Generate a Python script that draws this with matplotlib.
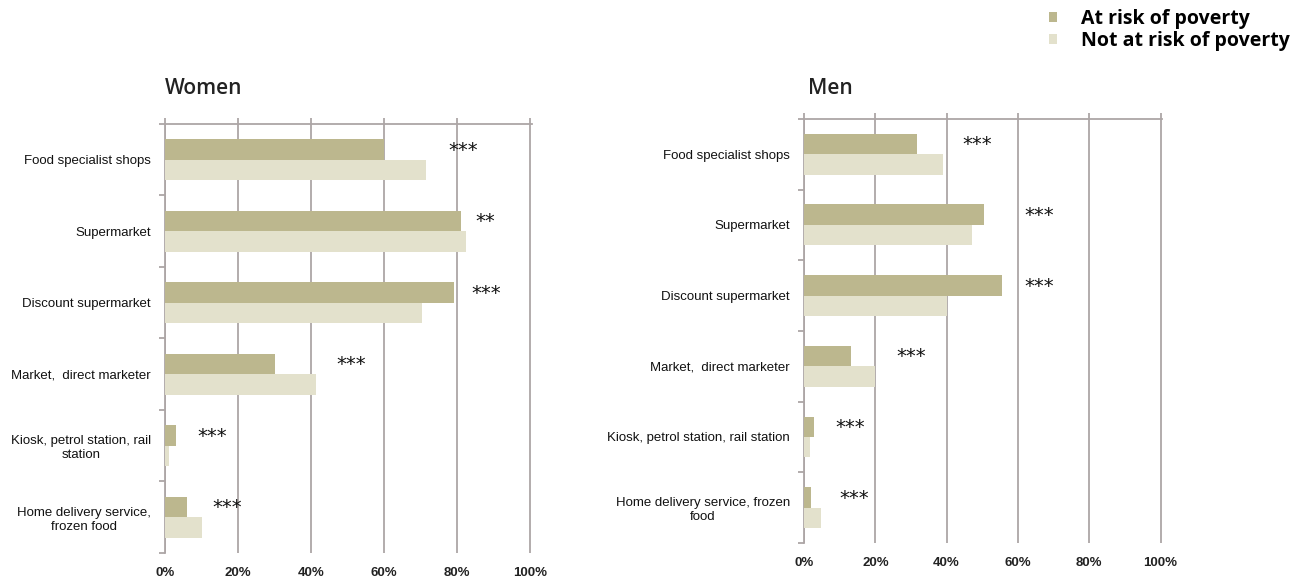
import matplotlib
matplotlib.use("Agg")
import matplotlib.pyplot as plt
from matplotlib import font_manager as fm
import numpy as np

# categories (top to bottom)
cats_women = ["Food specialist shops", "Supermarket", "Discount supermarket",
              "Market,  direct marketer", "Kiosk, petrol station, rail\nstation",
              "Home delivery service,\nfrozen food"]
cats_men = ["Food specialist shops", "Supermarket", "Discount supermarket",
            "Market,  direct marketer", "Kiosk, petrol station, rail station",
            "Home delivery service, frozen\nfood"]

# values in %
women_risk = [60, 81, 79, 30, 3, 6]
women_not = [71.5, 82.3, 70.4, 41.3, 1, 10]
men_risk = [31.6, 50.6, 55.6, 13.2, 2.9, 2]
men_not = [39, 47.2, 40.1, 19.9, 1.8, 4.7]

# significance markers and their x positions (%)
women_sig = ["***", "**", "***", "***", "***", "***"]
women_sig_x = [81.5, 87.5, 88, 51, 13, 17]
men_sig = ["***", "***", "***", "***", "***", "***"]
men_sig_x = [48.7, 66, 66, 30, 13, 14]

ticks = [0, 20, 40, 60, 80, 100]
tick_labels = ["0%", "20%", "40%", "60%", "80%", "100%"]

c_risk = "#bcb78e"
c_not = "#e3e1cc"
c_grid = "#ada6a6"

names = {f.name for f in fm.fontManager.ttflist}
label_font = "Liberation Sans Narrow" if "Liberation Sans Narrow" in names else "Liberation Sans"

fig = plt.figure(figsize=(13.05, 5.81), dpi=100)
ax_w = fig.add_axes([0.1264, 0.0482, 0.2812, 0.7384])
ax_m = fig.add_axes([0.6161, 0.0654, 0.2743, 0.7298])

h = 0.29


def draw_panel(ax, cats, risk, notr, sig, sig_x):
    y = np.arange(len(cats))
    b1 = ax.barh(y - h / 2, risk, height=h, color=c_risk, zorder=3, label="At risk of poverty")
    b2 = ax.barh(y + h / 2, notr, height=h, color=c_not, zorder=3, label="Not at risk of poverty")
    for i in range(len(cats)):
        ax.text(sig_x[i], y[i] - h / 2 + 0.01, sig[i], ha="center", va="center",
                fontsize=14, family="DejaVu Sans", color="#111111", zorder=4)
    ax.set_xlim(0, 100.4)
    ax.set_ylim(len(cats) - 0.5, -0.5)
    ax.set_xticks(ticks)
    ax.set_xticklabels(tick_labels, fontsize=9.5, family=label_font)
    ax.tick_params(axis="x", which="both", top=True, bottom=False, labeltop=False,
                   labelbottom=True, direction="out", length=4, color=c_grid, width=1.3, pad=6)
    for lbl in ax.get_xticklabels():
        lbl.set_fontweight("bold")
        lbl.set_color("#222222")
    ax.set_yticks(y)
    ax.set_yticklabels(cats, fontsize=9.5, family=label_font)
    ax.set_yticks(np.arange(len(cats) + 1) - 0.5, minor=True)
    ax.tick_params(axis="y", which="major", length=0, pad=10, labelcolor="#111111")
    ax.tick_params(axis="y", which="minor", length=4, direction="out", color=c_grid, width=1.3)
    for t in ax.get_yticklabels():
        t.set_multialignment("center")
    ax.grid(axis="x", color=c_grid, linewidth=1.3, zorder=0)
    for s in ["bottom", "right"]:
        ax.spines[s].set_visible(False)
    for s in ["top", "left"]:
        ax.spines[s].set_color(c_grid)
        ax.spines[s].set_linewidth(1.3)
    return b1, b2


handles = draw_panel(ax_w, cats_women, women_risk, women_not, women_sig, women_sig_x)
draw_panel(ax_m, cats_men, men_risk, men_not, men_sig, men_sig_x)

title_kw = dict(ha="left", va="center", fontsize=15, family="Open Sans",
                fontweight="semibold", color="#222222")
fig.text(165 / 1305, 1 - 89 / 581, "Women", **title_kw)
fig.text(808 / 1305, 1 - 89 / 581, "Men", **title_kw)

fig.legend(handles=list(handles), loc="upper left", bbox_to_anchor=(0.804, 0.985),
           frameon=False, handlelength=0.42, handleheight=0.42, handletextpad=1.2,
           labelspacing=0.12, borderpad=0, borderaxespad=0,
           prop={"family": "Open Sans", "weight": "bold", "size": 14})

fig.savefig("out.png", dpi=100)
